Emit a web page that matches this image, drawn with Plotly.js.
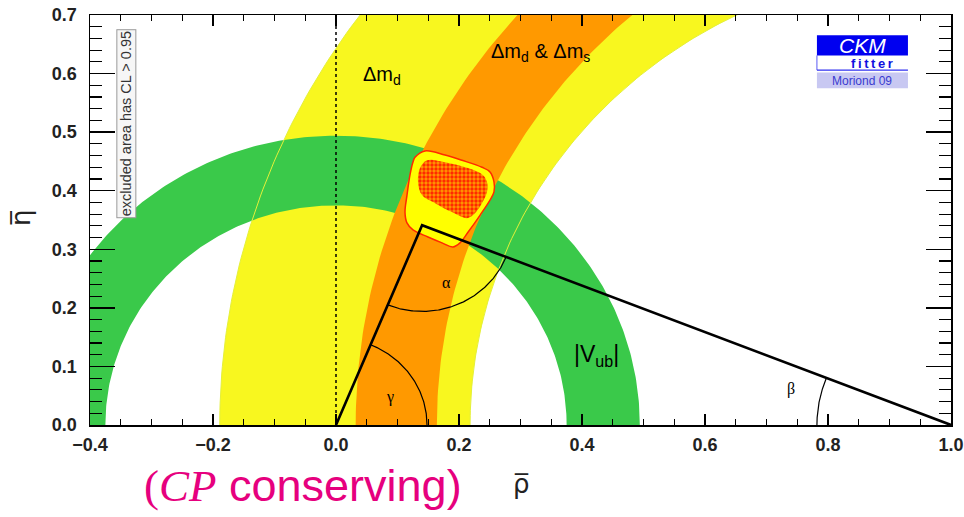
<!DOCTYPE html>
<html><head><meta charset="utf-8">
<script src="https://cdn.plot.ly/plotly-3.0.1.min.js"></script>
<style>html,body{margin:0;padding:0;background:#fff}</style>
</head><body><div id="chart" style="width:964px;height:517px"></div>
<script>
// ---- data ----
// constraint bands: circles centred on (centerRho, 0)
const bandNames      = ['Δm_d', '|V_ub|', 'Δm_d & Δm_s'];
const bandCenterRho  = [1.0, 0.0, 1.095];
const bandInnerR     = [0.782, 0.375, 0.931];
const bandOuterR     = [1.189, 0.494, 1.063];

// global fit region (outer 95% CL contour, inner 68% CL hatched contour)
const blobOuterRho = [0.1285,0.1447,0.1772,0.2049,0.2374,0.2504,0.2569,0.2569,0.2504,0.2341,0.2146,0.2016,0.1902,0.1724,0.1496,0.1252,0.1154,0.1122,0.1154,0.1203,0.1252];
const blobOuterEta = [0.457,0.468,0.461,0.452,0.440,0.432,0.415,0.398,0.384,0.358,0.329,0.311,0.304,0.311,0.321,0.333,0.345,0.363,0.392,0.427,0.449];
const blobInnerRho = [0.1366,0.148,0.1772,0.2146,0.239,0.2455,0.2455,0.2374,0.2228,0.213,0.1886,0.161,0.1398,0.1333];
const blobInnerEta = [0.4386,0.452,0.4488,0.4386,0.4266,0.4147,0.3976,0.3788,0.3584,0.3532,0.3635,0.3788,0.3925,0.4147];

// unitarity triangle apex
const apexRho = 0.14;
const apexEta = 0.341;

// angle arc radii
const arcAlphaR = 0.147, arcGammaR = 0.148, arcBetaR = 0.218;

// tick values
const xTicks = [-0.4,-0.2,0.0,0.2,0.4,0.6,0.8,1.0];
const yTicks = [0.0,0.1,0.2,0.3,0.4,0.5,0.6,0.7];

// ---- geometry helpers ----
const N = 300;
function annulus(cx, rIn, rOut) {
  const xs = [], ys = [];
  for (let i = 0; i <= N; i++) { const t = Math.PI * i / N; xs.push(cx + rOut * Math.cos(t)); ys.push(rOut * Math.sin(t)); }
  for (let i = N; i >= 0; i--) { const t = Math.PI * i / N; xs.push(cx + rIn * Math.cos(t)); ys.push(rIn * Math.sin(t)); }
  return {xs, ys};
}
function arc(cx, cy, r, t0, t1) {
  const xs = [], ys = [];
  for (let i = 0; i <= 120; i++) { const t = t0 + (t1 - t0) * i / 120; xs.push(cx + r * Math.cos(t)); ys.push(cy + r * Math.sin(t)); }
  return {xs, ys};
}
function circleEdge(cx, r) {
  const xs = [], ys = [];
  for (let i = 0; i <= N; i++) { const t = Math.PI * i / N; xs.push(cx + r * Math.cos(t)); ys.push(r * Math.sin(t)); }
  return {xs, ys};
}

const YEL = '#f8f71f', GRN = '#3ac94a', ORG = '#ff9900';
const traces = [];
function bandTrace(k, color) {
  const a = annulus(bandCenterRho[k], bandInnerR[k], bandOuterR[k]);
  return {type:'scatter', mode:'lines', x:a.xs, y:a.ys, fill:'toself', fillcolor:color,
          line:{width:0, color:color}, hoverinfo:'skip', showlegend:false, name:bandNames[k]};
}
traces.push(bandTrace(0, YEL));
traces.push(bandTrace(1, GRN));
// thin yellow contour of the Δm_d band seen through the |Vub| band
[bandInnerR[0], bandOuterR[0]].forEach(r => {
  const e = circleEdge(bandCenterRho[0], r);
  traces.push({type:'scatter', mode:'lines', x:e.xs, y:e.ys, line:{width:1, color:'#e4f03a'}, hoverinfo:'skip', showlegend:false});
});
traces.push(bandTrace(2, ORG));

// fit region
traces.push({type:'scatter', mode:'lines', x:blobOuterRho.concat([blobOuterRho[0]]), y:blobOuterEta.concat([blobOuterEta[0]]),
  fill:'toself', fillcolor:'#ffff00', line:{color:'#ff2a00', width:1.5, shape:'spline', smoothing:1}, hoverinfo:'skip', showlegend:false});
traces.push({type:'scatter', mode:'lines', x:blobInnerRho.concat([blobInnerRho[0]]), y:blobInnerEta.concat([blobInnerEta[0]]),
  fill:'toself', fillcolor:'#ff8a00',
  fillpattern:{shape:'.', fgcolor:'#ff2a00', bgcolor:'#ff9a00', size:4, solidity:0.55},
  line:{color:'rgba(0,0,0,0)', width:0, shape:'spline', smoothing:1}, hoverinfo:'skip', showlegend:false});

// triangle
traces.push({type:'scatter', mode:'lines', x:[0, apexRho, 1], y:[0, apexEta, 0],
  line:{color:'black', width:2.6}, hoverinfo:'skip', showlegend:false});

// angle arcs
const angLeft = Math.atan2(-apexEta, -apexRho);        // apex -> (0,0)
const angRight = Math.atan2(-apexEta, 1 - apexRho);    // apex -> (1,0)
const aA = arc(apexRho, apexEta, arcAlphaR, angLeft, angRight);
const angG = Math.atan2(apexEta, apexRho);
const aG = arc(0, 0, arcGammaR, 0, angG);
const angB = Math.atan2(apexEta, apexRho - 1);
const aB = arc(1, 0, arcBetaR, angB, Math.PI);
[aA, aG, aB].forEach(a => traces.push({type:'scatter', mode:'lines', x:a.xs, y:a.ys,
  line:{color:'black', width:1.2}, hoverinfo:'skip', showlegend:false}));

const lab = (x, y, text, size, extra) => Object.assign({x, y, xref:'x', yref:'y', text, showarrow:false,
  xanchor:'center', yanchor:'middle',
  font:{family:'Liberation Sans, Arial, sans-serif', size, color:'black'}}, extra || {});
const greek = {family:'Liberation Serif, serif', size:16, color:'black'};

const layout = {
  width:964, height:517,
  margin:{l:90, r:13, t:15, b:92},
  paper_bgcolor:'white', plot_bgcolor:'white',
  showlegend:false,
  xaxis:{range:[-0.4, 1.0], tickvals:xTicks, tickformat:'.1f', showgrid:false, zeroline:false,
    showline:true, linecolor:'black', linewidth:1.5, mirror:'allticks',
    ticks:'inside', ticklen:11, tickwidth:1.5, tickcolor:'black', ticklabelstandoff:3,
    minor:{dtick:0.05, ticks:'inside', ticklen:6, tickwidth:1.2, tickcolor:'black', showgrid:false},
    tickfont:{family:'Liberation Sans, Arial, sans-serif', size:18, color:'#222', weight:'bold'}, fixedrange:true},
  yaxis:{range:[0, 0.7], tickvals:yTicks, tickformat:'.1f', showgrid:false, zeroline:false,
    showline:true, linecolor:'black', linewidth:1.5, mirror:'allticks',
    ticks:'inside', ticklen:25, tickwidth:1.5, tickcolor:'black', ticklabelstandoff:8,
    minor:{dtick:0.02, ticks:'inside', ticklen:12, tickwidth:1.2, tickcolor:'black', showgrid:false},
    tickfont:{family:'Liberation Sans, Arial, sans-serif', size:18, color:'#222', weight:'bold'}, fixedrange:true},
  shapes:[
    {type:'line', xref:'x', yref:'y', x0:0, x1:0, y0:0, y1:0.7, line:{color:'black', width:1.5, dash:'3px,3px'}, layer:'above'},
    {type:'rect', xref:'x', yref:'y', x0:0.782, x1:0.930, y0:0.631, y1:0.6655, fillcolor:'#0000f0', line:{width:0}, layer:'above'},
    {type:'line', xref:'x', yref:'y', x0:0.782, x1:0.930, y0:0.606, y1:0.606, line:{color:'#3030f0', width:1.2}, layer:'above'},
    {type:'line', xref:'x', yref:'y', x0:0.782, x1:0.782, y0:0.606, y1:0.631, line:{color:'#3030f0', width:0.8}, layer:'above'},
    {type:'rect', xref:'x', yref:'y', x0:0.782, x1:0.930, y0:0.575, y1:0.602, fillcolor:'#c8c8f2', line:{width:0}, layer:'above'}
  ],
  annotations:[
    lab(0.075, 0.597, 'Δm<sub>d</sub>', 20),
    lab(0.333, 0.636, 'Δm<sub>d</sub> &amp; Δm<sub>s</sub>', 20),
    lab(0.424, 0.118, '|V<sub>ub</sub>|', 23),
    lab(0.18, 0.244, 'α', 15, {font:greek}),
    lab(0.088, 0.048, 'γ', 15, {font:greek}),
    lab(0.74, 0.062, 'β', 15, {font:greek}),
    {x:-0.341, y:0.514, xref:'x', yref:'y', xanchor:'center', yanchor:'middle', text:'excluded area has CL &gt; 0.95', textangle:-90, showarrow:false,
      font:{family:'Liberation Sans Narrow, Liberation Sans, Arial, sans-serif', size:14.5, color:'#333'},
      bgcolor:'#f6f6f6', bordercolor:'#9a9a9a', borderwidth:1, borderpad:1},
    {x:0.856, y:0.648, xref:'x', yref:'y', xanchor:'center', yanchor:'middle', text:'<i>CKM</i>', showarrow:false,
      font:{family:'Liberation Sans, Arial, sans-serif', size:21, color:'white'}},
    {x:0.872, y:0.617, xref:'x', yref:'y', xanchor:'center', yanchor:'middle', text:'f\u2009i\u2009t\u2009t\u2009e\u2009r', showarrow:false,
      font:{family:'Liberation Sans, Arial, sans-serif', size:13, color:'#1010e0', weight:'bold'}},
    {x:0.856, y:0.588, xref:'x', yref:'y', xanchor:'center', yanchor:'middle', text:'Moriond 09', showarrow:false,
      font:{family:'Liberation Sans Narrow, Liberation Sans, Arial, sans-serif', size:12, color:'#3a3ad0'}},
    {x:(521-90)/861, y:(425-484)/410, xref:'paper', yref:'paper', xanchor:'center', yanchor:'middle', text:'ρ\u0305', showarrow:false,
      font:{family:'DejaVu Sans, sans-serif', size:26, color:'#222'}},
    {x:(21-90)/861, y:(425-218)/410, xref:'paper', yref:'paper', xanchor:'center', yanchor:'middle', text:'η\u0305', textangle:-90, showarrow:false,
      font:{family:'DejaVu Sans, sans-serif', size:26, color:'#222'}},
    {x:(303-90)/861, y:(425-486)/410, xref:'paper', yref:'paper', xanchor:'center', yanchor:'middle', showarrow:false,
      text:'<span style="font-family:Liberation Serif, serif">(<i>CP</i></span> conserving)',
      font:{family:'Liberation Sans, Arial, sans-serif', size:45, color:'#e6007e'}}
  ]
};

Plotly.newPlot('chart', traces, layout, {staticPlot:true, displayModeBar:false});
</script>
</body></html>
